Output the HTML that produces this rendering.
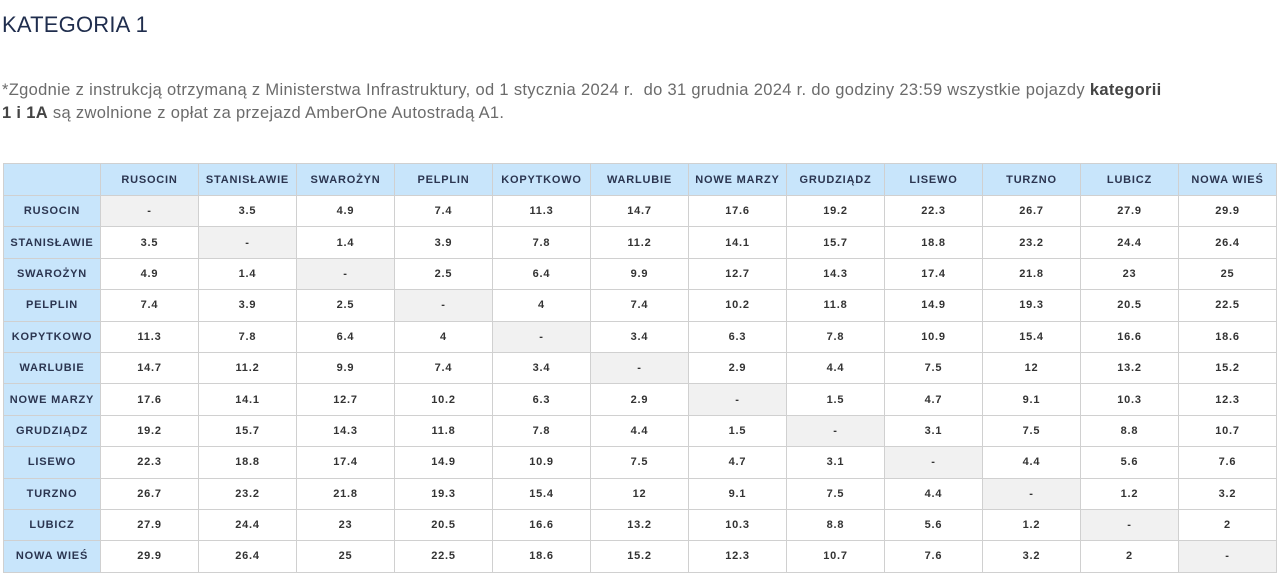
<!DOCTYPE html>
<html><head><meta charset="utf-8"><style>
body{margin:0;background:#fff;font-family:"Liberation Sans",sans-serif;width:1280px;height:577px;overflow:hidden;position:relative}
h1{position:absolute;left:2px;top:12px;margin:0;font-weight:normal;font-size:22px;color:#1f2d4d;letter-spacing:0.2px}
p{position:absolute;left:2px;top:79px;margin:0;font-size:16.5px;line-height:23px;color:#6b6b6b;width:1200px;letter-spacing:0.33px}
p b{color:#444}
table{position:absolute;left:3px;top:163px;border-collapse:collapse;table-layout:fixed}
td{border:1px solid #d0d0d0;text-align:center;font-size:11px;font-weight:bold;color:#333;height:30.4px;padding:0;letter-spacing:0.8px}
tr:first-child td{height:31px;background:#c8e5fb;color:#2b3550}
td.h{background:#c8e5fb;color:#2b3550}
td.d{background:#f1f1f1}
</style></head><body>
<h1>KATEGORIA 1</h1>
<p>*Zgodnie z instrukcją otrzymaną z Ministerstwa Infrastruktury, od 1 stycznia 2024 r.&nbsp; do 31 grudnia 2024 r. do godziny 23:59 wszystkie pojazdy <b>kategorii<br>1 i 1A</b> są zwolnione z opłat za przejazd AmberOne Autostradą A1.</p>
<table id="t"></table>
<script>
var n=["RUSOCIN","STANISŁAWIE","SWAROŻYN","PELPLIN","KOPYTKOWO","WARLUBIE","NOWE MARZY","GRUDZIĄDZ","LISEWO","TURZNO","LUBICZ","NOWA WIEŚ"];
var m=[
["-","3.5","4.9","7.4","11.3","14.7","17.6","19.2","22.3","26.7","27.9","29.9"],
["3.5","-","1.4","3.9","7.8","11.2","14.1","15.7","18.8","23.2","24.4","26.4"],
["4.9","1.4","-","2.5","6.4","9.9","12.7","14.3","17.4","21.8","23","25"],
["7.4","3.9","2.5","-","4","7.4","10.2","11.8","14.9","19.3","20.5","22.5"],
["11.3","7.8","6.4","4","-","3.4","6.3","7.8","10.9","15.4","16.6","18.6"],
["14.7","11.2","9.9","7.4","3.4","-","2.9","4.4","7.5","12","13.2","15.2"],
["17.6","14.1","12.7","10.2","6.3","2.9","-","1.5","4.7","9.1","10.3","12.3"],
["19.2","15.7","14.3","11.8","7.8","4.4","1.5","-","3.1","7.5","8.8","10.7"],
["22.3","18.8","17.4","14.9","10.9","7.5","4.7","3.1","-","4.4","5.6","7.6"],
["26.7","23.2","21.8","19.3","15.4","12","9.1","7.5","4.4","-","1.2","3.2"],
["27.9","24.4","23","20.5","16.6","13.2","10.3","8.8","5.6","1.2","-","2"],
["29.9","26.4","25","22.5","18.6","15.2","12.3","10.7","7.6","3.2","2","-"]];
var h='<colgroup><col style="width:97px">'+'<col style="width:98px">'.repeat(12)+'</colgroup><tr><td></td>'+n.map(x=>'<td>'+x+'</td>').join('')+'</tr>';
for(var i=0;i<12;i++){h+='<tr><td class="h">'+n[i]+'</td>';for(var j=0;j<12;j++)h+='<td'+(i==j?' class="d"':'')+'>'+m[i][j]+'</td>';h+='</tr>';}
var t=document.getElementById('t');t.innerHTML=h;t.style.width=(97+98*12)+'px';
</script>
</body></html>
